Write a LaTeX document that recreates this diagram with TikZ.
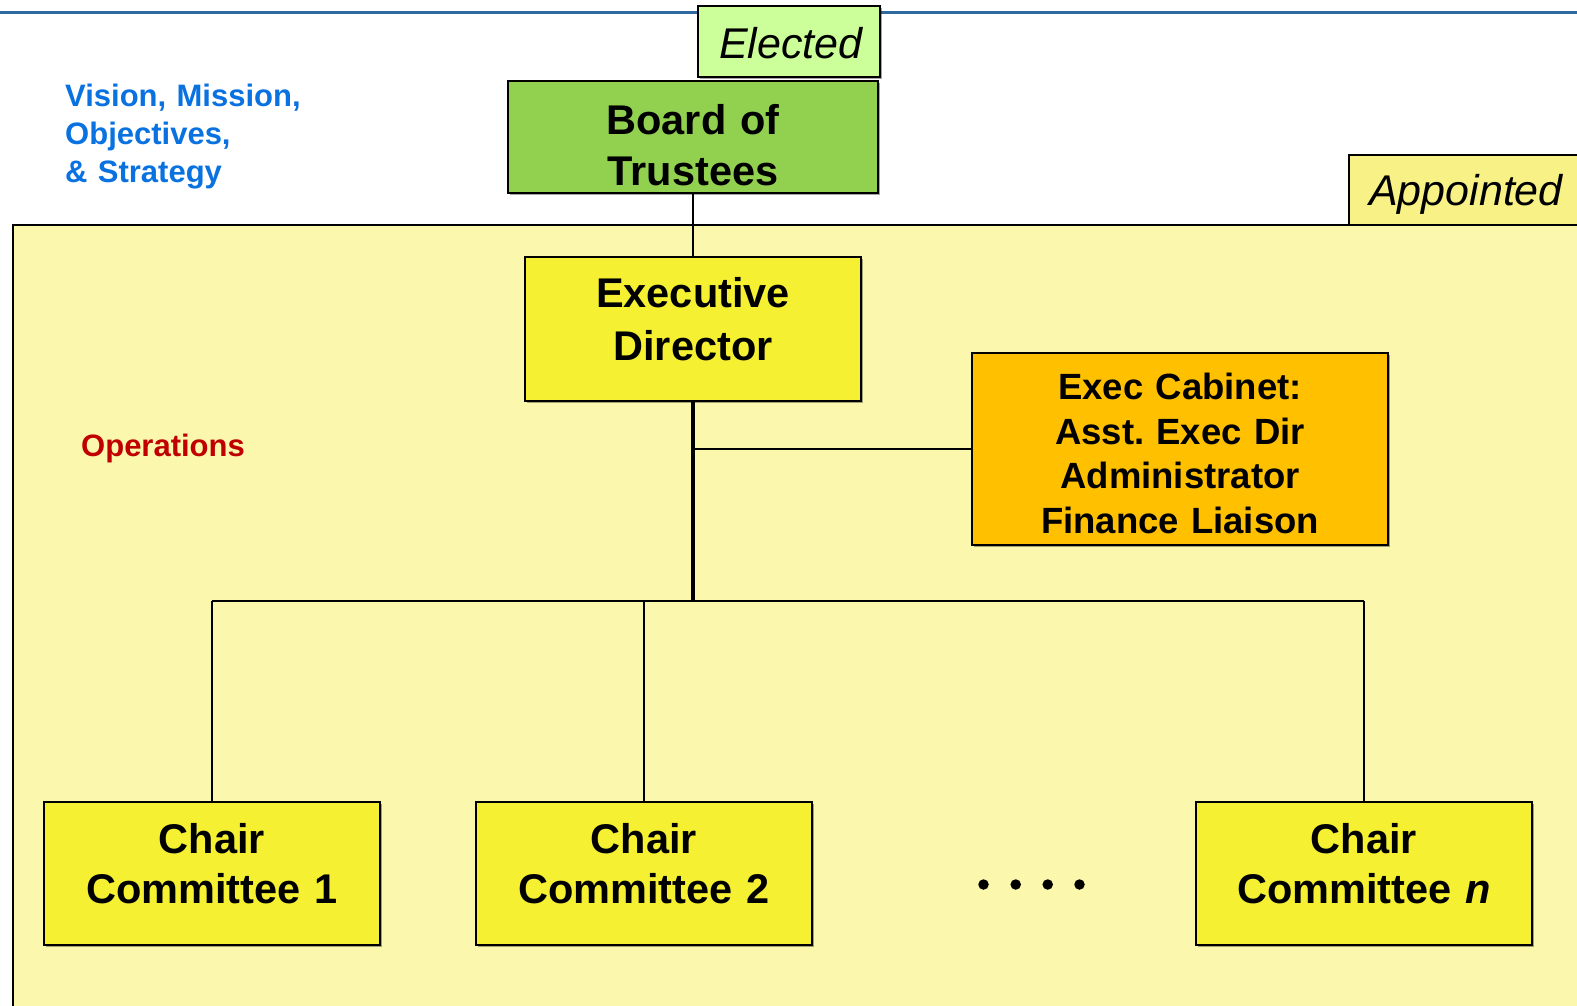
\documentclass[tikz,border=0pt]{standalone}
\usepackage{fontspec}
\setmainfont{Liberation Sans}
\frenchspacing
\usetikzlibrary{shadows}
\definecolor{topblue}{HTML}{2E6AA0}
\definecolor{elgreen}{HTML}{CCFF99}
\definecolor{bdgreen}{HTML}{92D050}
\definecolor{appyellow}{HTML}{F8F286}
\definecolor{areayellow}{HTML}{FBF8AE}
\definecolor{boxyellow}{HTML}{F5F032}
\definecolor{cabinet}{HTML}{FFC000}
\definecolor{visblue}{HTML}{0A72E0}
\definecolor{opsred}{HTML}{C00000}
\tikzset{
  box/.style={draw=black, line width=2.3pt, inner sep=0pt, rectangle,
    drop shadow={shadow xshift=1.8pt, shadow yshift=-1.8pt, opacity=0.35, fill=black}},
  plainbox/.style={draw=black, line width=2.3pt, inner sep=0pt, rectangle},
  bigtxt/.style={inner sep=0pt, anchor=base, align=center, text width=330pt,
    font=\bfseries\fontsize{41.5}{51}\selectfont},
  cabtxt/.style={inner sep=0pt, anchor=base, align=center, text width=400pt,
    font=\bfseries\fontsize{36.5}{44.7}\selectfont},
  tagtxt/.style={inner sep=0pt, anchor=base, font=\itshape\fontsize{43}{50}\selectfont},
  sidetxt/.style={inner sep=0pt, anchor=base west, align=left, text width=300pt,
    font=\bfseries\fontsize{31}{38}\selectfont},
  link/.style={draw=black, line width=2.8pt},
  dotnode/.style={circle, fill=black, inner sep=0pt, minimum size=10.5pt}
}
\begin{document}
\begin{tikzpicture}[x=1pt,y=-1pt]
\useasboundingbox (0,0) rectangle (1577,1006);
\fill[white] (0,0) rectangle (1577,1006);
% top rule
\coordinate (ruleL) at (0,13);
\coordinate (ruleR) at (1577,13);
\draw[topblue, line width=3pt] (ruleL) -- (ruleR);
% operations area
\node[plainbox, fill=areayellow, anchor=north west, minimum width=1600, minimum height=820] (area) at (12,224) {};
% appointed tag
\node[plainbox, fill=appyellow, anchor=north west, minimum width=260, minimum height=70] (appointed) at (1348,154) {};
\node[tagtxt] (appointedt) at (1466,205) {Appointed};
% elected tag
\node[box, fill=elgreen, minimum width=182, minimum height=71] (elected) at (789,41.5) {};
\node[tagtxt] (electedt) at (791,58.5) {Elected};
% board
\node[box, fill=bdgreen, minimum width=370, minimum height=112] (board) at (693,137) {};
\node[bigtxt] (boardt) at (693,135) {Board of\\Trustees};
% executive director
\node[box, fill=boxyellow, minimum width=336, minimum height=144] (ed) at (693,329) {};
\node[bigtxt, font=\bfseries\fontsize{41.5}{52.5}\selectfont] (edt) at (693,307.5) {Executive\\Director};
% cabinet
\node[box, fill=cabinet, minimum width=416, minimum height=192] (cab) at (1180,449) {};
\node[cabtxt] (cabt) at (1180,399.3) {Exec Cabinet:\\Asst. Exec Dir\\Administrator\\Finance Liaison};
% chairs
\node[box, fill=boxyellow, minimum width=336, minimum height=143] (c1) at (212,873.3) {};
\node[bigtxt, font=\bfseries\fontsize{41.5}{50}\selectfont] (c1t) at (212,853.3) {Chair\\Committee 1};
\node[box, fill=boxyellow, minimum width=336, minimum height=143] (c2) at (644,873.3) {};
\node[bigtxt, font=\bfseries\fontsize{41.5}{50}\selectfont] (c2t) at (644,853.3) {Chair\\Committee 2};
\node[box, fill=boxyellow, minimum width=336, minimum height=143] (cn) at (1364,873.3) {};
\node[bigtxt, font=\bfseries\fontsize{41.5}{50}\selectfont] (cnt) at (1364,853.3) {Chair\\Committee \textit{n}};
% dots
\node[dotnode] (d1) at (983.5,884.5) {};
\node[dotnode] (d2) at (1015.7,884.5) {};
\node[dotnode] (d3) at (1047.7,884.5) {};
\node[dotnode] (d4) at (1079.5,884.5) {};
% side texts
\node[sidetxt, text=visblue] (vision) at (65,106.7) {Vision, Mission,\\Objectives,\\\& Strategy};
\node[sidetxt, text=opsred] (ops) at (81,456.7) {Operations};
% connectors
\coordinate (bus) at (693,601);
\draw[link, line width=2pt] (board.south) -- (board.south |- ed.north);
\draw[link, line width=3.6pt] (ed.south) -- (bus);
\draw[link, line width=2.4pt] (ed.south |- cab.west) -- (cab.west);
\draw[link] (c1.north |- bus) -- (cn.north |- bus);
\draw[link] (c1.north |- bus) -- (c1.north);
\draw[link] (c2.north |- bus) -- (c2.north);
\draw[link] (cn.north |- bus) -- (cn.north);
\end{tikzpicture}
\end{document}
